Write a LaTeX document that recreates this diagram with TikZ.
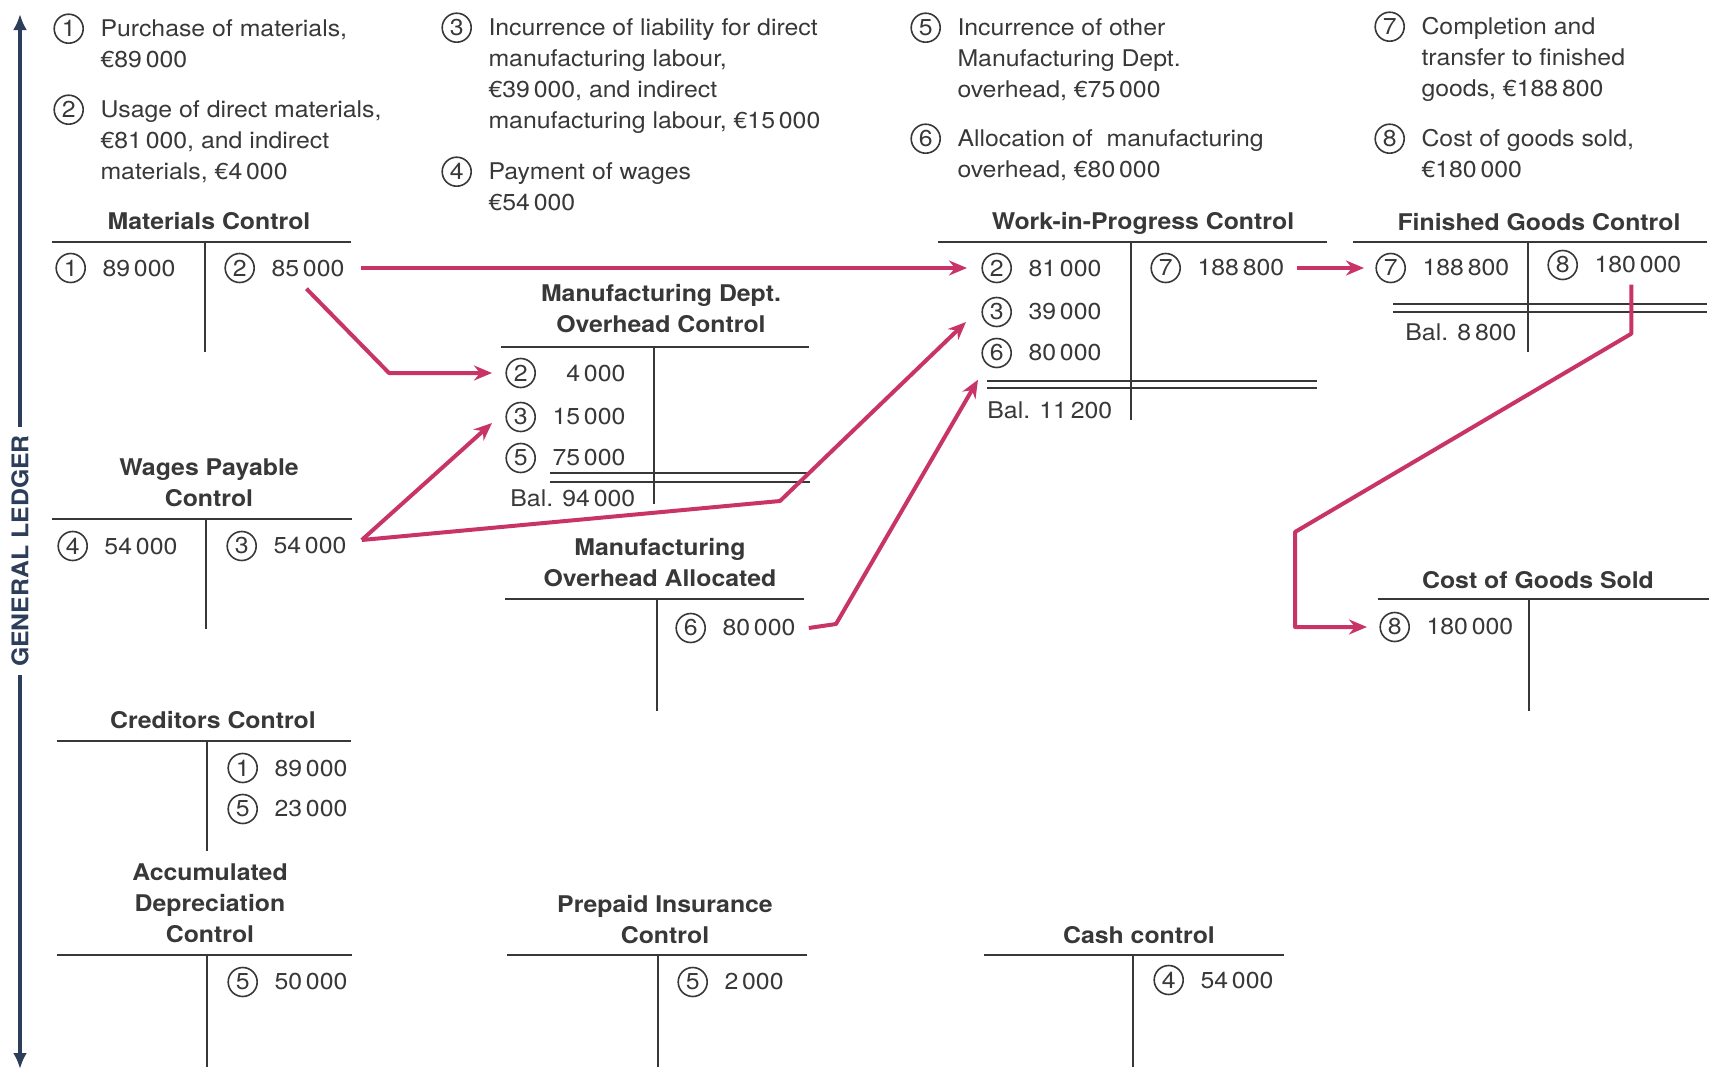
\documentclass[tikz,border=0pt]{standalone}
\usepackage{fontspec}
\setmainfont{TeX Gyre Heros}[FakeStretch=1.08]
\usetikzlibrary{arrows.meta}
\definecolor{ink}{HTML}{383838}
\definecolor{flowred}{RGB}{201,52,104}
\definecolor{navy}{HTML}{2C3E5A}
\newcommand\cnum[1]{\tikz[baseline=(c.base)]\node[draw=ink,circle,inner sep=0pt,minimum size=14.5pt,line width=.8pt](c){#1};}
\newcommand\jitem[2]{\cnum{#1}\hspace{8.25pt}\parbox[t]{8cm}{\raggedright #2}}
\begin{document}
\begin{tikzpicture}[x=.5pt,y=-.5pt,>={Stealth[length=9pt,width=7.5pt]},line join=round,
	font=\fontsize{11.5}{15.5}\selectfont,text=ink,
	desc/.style={anchor=north west,inner sep=0pt},
	entry/.style={anchor=west,inner sep=0pt},
	acct/.style={anchor=south,inner sep=0pt,align=center,font=\fontsize{11.5}{15.5}\selectfont\bfseries},
	tline/.style={draw=ink,line width=1pt},
	dbl/.style={draw=ink,line width=.7pt},
	flow/.style={draw=flowred,line width=2pt,->}]
	\useasboundingbox (0,0) rectangle (1710,1071);
	% ledger axis
	\node[rotate=90,inner sep=0pt,text=navy,font=\fontsize{11.5}{14}\selectfont\bfseries] (gl) at (20,551) {GENERAL LEDGER};
	\coordinate (top) at (20,14); \coordinate (bot) at (20,1069);
	\draw[navy,line width=2pt,-{Latex[length=8pt,width=7pt]},shorten <=4pt] (gl.east) -- (top);
	\draw[navy,line width=2pt,-{Latex[length=8pt,width=7pt]},shorten <=4pt] (gl.west) -- (bot);
	% transactions
	\node[desc] (d1) at (53,13) {\jitem{1}{Purchase of materials,\\ €89\,000}};
	\node[desc] (d2) at (53,94) {\jitem{2}{Usage of direct materials,\\ €81\,000, and indirect\\ materials, €4\,000}};
	\node[desc] (d3) at (441,12) {\jitem{3}{Incurrence of liability for direct\\ manufacturing labour,\\ €39\,000, and indirect\\ manufacturing labour, €15\,000}};
	\node[desc] (d4) at (441,156) {\jitem{4}{Payment of wages\\ €54\,000}};
	\node[desc] (d5) at (910,12) {\jitem{5}{Incurrence of other\\ Manufacturing Dept.\\ overhead, €75\,000}};
	\node[desc] (d6) at (910,123) {\jitem{6}{Allocation of \ manufacturing\\ overhead, €80\,000}};
	\node[desc] (d7) at (1374,11) {\jitem{7}{Completion and\\ transfer to finished\\ goods, €188\,800}};
	\node[desc] (d8) at (1374,123) {\jitem{8}{Cost of goods sold,\\ €180\,000}};
	% accounts
	\node[acct] (tmc) at (209,230) {Materials Control};
	\draw[tline] (52,242) -- (351,242) (205,242) -- (205,352);
	\node[entry] (mc1) at (55,268) {\cnum{1}\hspace{8.25pt}89\,000};
	\node[entry] (mc2) at (224,268) {\cnum{2}\hspace{8.25pt}85\,000};

	\node[acct] (twip) at (1143,235) {Work-in-Progress Control};
	\draw[tline] (938,242) -- (1327,242) (1131,242) -- (1131,420);
	\node[entry] (wip2) at (981,268) {\cnum{2}\hspace{8.25pt}81\,000};
	\node[entry] (wip3) at (981,312) {\cnum{3}\hspace{8.25pt}39\,000};
	\node[entry] (wip6) at (981,353) {\cnum{6}\hspace{8.25pt}80\,000};
	\node[entry] (wip7) at (1150,268) {\cnum{7}\hspace{8.25pt}188\,800};
	\draw[dbl] (987,381) -- (1317,381) (987,388) -- (1317,388);
	\node[entry] (wipbal) at (987,410) {Bal. 11\,200};

	\node[acct] (tfg) at (1539,231) {Finished Goods Control};
	\draw[tline] (1353,242) -- (1707,242) (1528,242) -- (1528,352);
	\node[entry] (fg7) at (1375,268) {\cnum{7}\hspace{8.25pt}188\,800};
	\node[entry] (fg8) at (1547,265) {\cnum{8}\hspace{8.25pt}180\,000};
	\draw[dbl] (1393,304) -- (1707,304) (1393,312) -- (1707,312);
	\node[entry] (fgbal) at (1405,332) {Bal. 8\,800};

	\node[acct] (tmoh) at (661,333) {Manufacturing Dept.\\ Overhead Control};
	\draw[tline] (501,347) -- (809,347) (654,347) -- (654,504);
	\node[entry] (moh2) at (505,373) {\cnum{2}\hspace{8.25pt}\phantom{1}4\,000};
	\node[entry] (moh3) at (505,417) {\cnum{3}\hspace{8.25pt}15\,000};
	\node[entry] (moh5) at (505,458) {\cnum{5}\hspace{8.25pt}75\,000};
	\draw[dbl] (550,473) -- (810,473) (550,482) -- (810,482);
	\node[entry] (mohbal) at (510,498) {Bal. 94\,000};

	\node[acct] (tmoa) at (660,587) {Manufacturing\\ Overhead Allocated};
	\draw[tline] (505,599) -- (804,599) (657,599) -- (657,711);
	\node[entry] (moa6) at (675,628) {\cnum{6}\hspace{8.25pt}80\,000};

	\node[acct] (twp) at (209,507) {Wages Payable\\ Control};
	\draw[tline] (52,519) -- (352,519) (206,519) -- (206,629);
	\node[entry] (wp4) at (57,546) {\cnum{4}\hspace{8.25pt}54\,000};
	\node[entry] (wp3) at (226,546) {\cnum{3}\hspace{8.25pt}54\,000};

	\node[acct] (tcogs) at (1538,589) {Cost of Goods Sold};
	\draw[tline] (1378,599) -- (1709,599) (1529,599) -- (1529,711);
	\node[entry] (cogs8) at (1379,627) {\cnum{8}\hspace{8.25pt}180\,000};

	\node[acct] (tcr) at (213,729) {Creditors Control};
	\draw[tline] (57,741) -- (351,741) (207,741) -- (207,851);
	\node[entry] (cr1) at (227,768) {\cnum{1}\hspace{8.25pt}89\,000};
	\node[entry] (cr5) at (227,809) {\cnum{5}\hspace{8.25pt}23\,000};

	\node[acct] (tad) at (210,943) {Accumulated\\ Depreciation\\ Control};
	\draw[tline] (57,955) -- (352,955) (207,955) -- (207,1067);
	\node[entry] (ad5) at (227,982) {\cnum{5}\hspace{8.25pt}50\,000};

	\node[acct] (tpi) at (665,944) {Prepaid Insurance\\ Control};
	\draw[tline] (507,955) -- (807,955) (658,955) -- (658,1067);
	\node[entry] (pi5) at (677,982) {\cnum{5}\hspace{8.25pt}2\,000};

	\node[acct] (tcash) at (1139,944) {Cash control};
	\draw[tline] (984,955) -- (1284,955) (1133,955) -- (1133,1067);
	\node[entry] (cc4) at (1153,980) {\cnum{4}\hspace{8.25pt}54\,000};
	% flows
	\coordinate (b1) at (389,371);
	\coordinate (c1) at (780,501);
	\coordinate (e1) at (836,624);
	\coordinate (f2) at (1295,532);
	\draw[flow] ([xshift=8pt]mc2.east) -- ([xshift=-7pt]wip2.west);
	\draw[flow] ([shift={(11pt,-2.5pt)}]mc2.south) -- (b1 |- moh2.west) -- ([xshift=-6.5pt]moh2.west);
	\draw[flow] ([shift={(7.5pt,3pt)}]wp3.east) -- ([shift={(-6.5pt,-3pt)}]moh3.west);
	\draw[flow] ([shift={(7.5pt,3pt)}]wp3.east) -- (c1) -- ([shift={(-7.5pt,-5pt)}]wip3.west);
	\draw[flow] ([xshift=6.5pt]moa6.east) -- (e1) -- ([shift={(-1.5pt,-5.5pt)}]wip6.south west);
	\draw[flow] ([xshift=6pt]wip7.east) -- ([xshift=-5.5pt]fg7.west);
	\draw[flow] ([shift={(8.5pt,-2pt)}]fg8.south) -- ++(0,49) -- (f2) |- ([xshift=-6pt]cogs8.west);
\end{tikzpicture}
\end{document}
